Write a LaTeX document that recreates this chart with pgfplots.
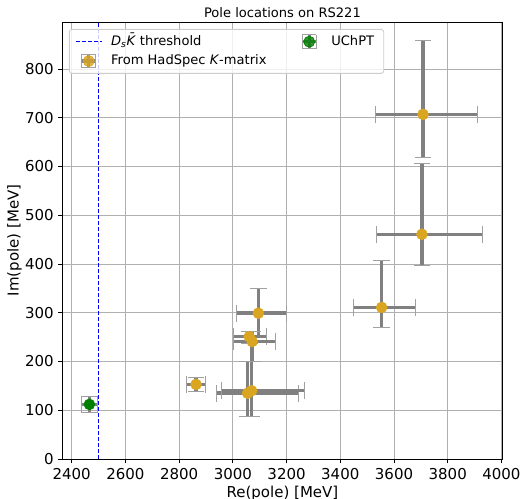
\documentclass[border=0pt]{standalone}
\usepackage{fontspec}
\setmainfont{DejaVu Sans}
\usepackage{pgfplots}
\usepackage{pgfplotstable}
\pgfplotsset{compat=1.18}
\definecolor{gold}{HTML}{DAA520}
\definecolor{mgreen}{HTML}{008000}
\definecolor{gridc}{HTML}{B0B0B0}
\definecolor{ebar}{HTML}{808080}
\definecolor{ecap}{HTML}{A0A0A0}
\definecolor{legframe}{HTML}{CCCCCC}

\pgfplotstableread{
x y exp exm eyp eym
2863 153 36 36 15 15
3095 299 103 80 51 50
3061 251 65 57 10 15
3072 241 85 70 20 40
3055 135 190 115 65 48
3070 140 195 112 60 53
3554 311 127 106 97 42
3704 461 226 169 146 64
3708 707 204 176 151 88
}\hadspec

\pgfplotstableread{
x y exp exm eyp eym
2466 112 29 29 17 17
}\uchpt

\pgfplotsset{
  ebleg/.style={legend image code/.code={
    \draw[ebar, line width=2.6pt] (9.75pt,-5.1pt)--(9.75pt,5.1pt) (4.65pt,0pt)--(14.85pt,0pt);
    \draw[ecap, line width=0.75pt] (4.65pt,-5.2pt)--(4.65pt,5.2pt) (14.85pt,-5.2pt)--(14.85pt,5.2pt)
        (4.55pt,-5.1pt)--(14.95pt,-5.1pt) (4.55pt,5.1pt)--(14.95pt,5.1pt);
    \fill[#1] (9.75pt,0pt) circle (4.1pt);
    \path (0pt,0pt) (19.5pt,0pt);
  }},
  ebstyle/.style={
    only marks, mark=*, mark size=4.1pt, color=#1, mark options={draw=#1, fill=#1},
    error bars/.cd,
      x dir=both, x explicit, y dir=both, y explicit,
      error bar style={draw=ebar, line width=2.6pt, solid},
      error mark=-,
      error mark options={draw=ecap, line width=0.75pt, mark size=6.3pt, rotate=90},
    /pgfplots/.cd,
  },
}

\begin{document}
\begin{tikzpicture}
\begin{axis}[
  name=ax,
  scale only axis,
  width=329.7pt, height=327.75pt,
  xmin=2366.5, xmax=4003, ymin=0, ymax=896.4,
  xtick={2400,2600,...,4000},
  ytick={0,100,...,800},
  scaled ticks=false,
  /pgf/number format/1000 sep={},
  /pgf/number format/assume math mode=true,
  tick pos=left,
  tick align=outside,
  major tick length=3.2pt,
  tick style={black, line width=0.6pt},
  axis line style={black, line width=0.7pt},
  grid=major,
  grid style={gridc, line width=0.6pt},
  ticklabel style={font=\fontsize{11.25}{13}\selectfont},
  xlabel={Re(pole) [MeV]},
  ylabel={Im(pole) [MeV]},
  every axis x label/.style={at={(axis description cs:0.5,0)}, anchor=base, yshift=-28.7pt, font=\fontsize{11.25}{13}\selectfont},
  every axis y label/.style={at={(axis description cs:-0.1097,0.5)}, anchor=center, rotate=90, font=\fontsize{11.25}{13}\selectfont},
  title={Pole locations on RS221},
  every axis title/.style={at={(axis description cs:0.5,1)}, anchor=base, yshift=3.5pt, font=\fontsize{9.8}{11}\selectfont},
  legend columns=2,
  legend cell align=left,
  legend style={at={(0.0143,0.984)}, anchor=north west,
    draw=legframe, line width=0.6pt, rounded corners=2pt,
    fill=white, fill opacity=0.8, text opacity=1,
    font=\fontsize{9.8}{11}\selectfont,
    inner xsep=4.25pt, inner ysep=2pt,
    nodes={text height=7.3pt, text depth=2.2pt, inner ysep=2.5pt, inner xsep=3pt},
    /tikz/every odd column/.append style={column sep=3.5pt},
    /tikz/every even column/.append style={column sep=19pt}},
]
\addplot[blue, line width=1.1pt, dash pattern=on 3pt off 1.5pt,
  legend image code/.code={\draw[blue, line width=1.1pt, dash pattern=on 3pt off 1.5pt] (0pt,0pt)--(19.5pt,0pt);}]
  coordinates {(2499,0) (2499,896.4)};
\addlegendentry{\textit{D}\textsubscript{\textit{s}}\textit{\=K} threshold}

\addplot[ebleg=mgreen, ebstyle=mgreen]
  table[x=x, y=y, x error plus=exp, x error minus=exm, y error plus=eyp, y error minus=eym] {\uchpt};
\addlegendentry{UChPT}

\addplot[ebleg=gold, ebstyle=gold]
  table[x=x, y=y, x error plus=exp, x error minus=exm, y error plus=eyp, y error minus=eym] {\hadspec};
\addlegendentry{From HadSpec \textit{K}-matrix}
\end{axis}
\pgfresetboundingbox
\path (ax.south west) ++(-47pt,-30pt) rectangle ([xshift=14.8pt, yshift=16.5pt]ax.north east);
\end{tikzpicture}
\end{document}
